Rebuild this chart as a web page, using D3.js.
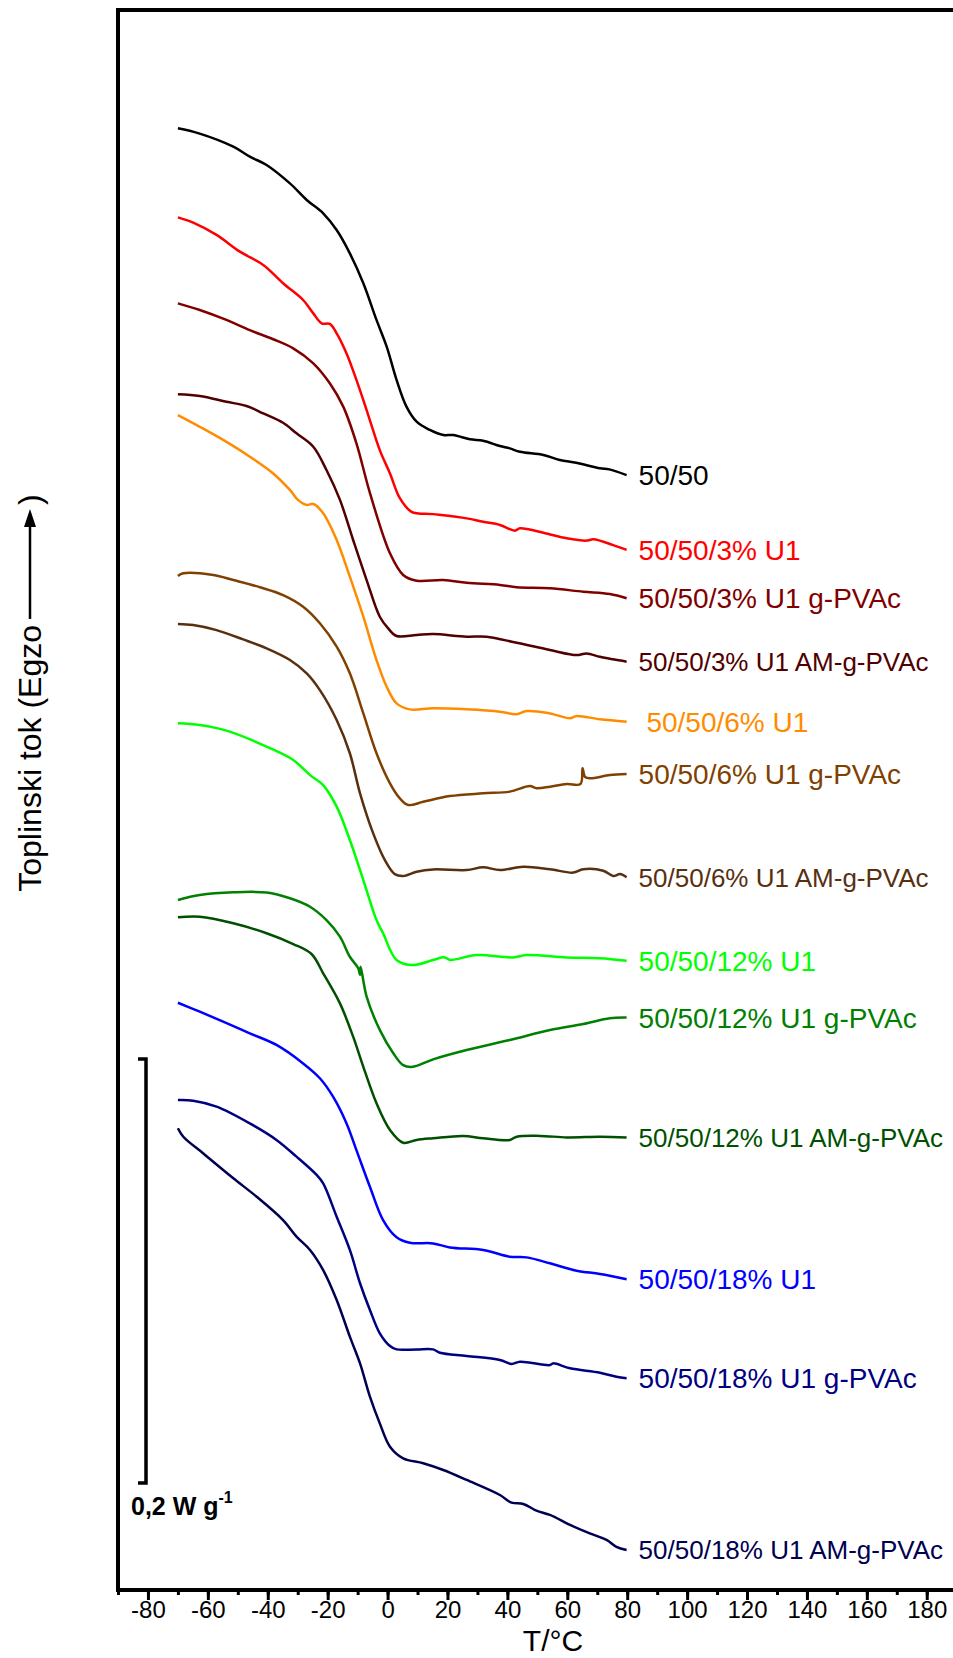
<!DOCTYPE html>
<html>
<head>
<meta charset="utf-8">
<script src="https://cdn.jsdelivr.net/npm/d3@7"></script>
<style>
  body { margin: 0; background: #fff; }
  svg { display: block; font-family: "Liberation Sans", Arial, sans-serif; }
</style>
</head>
<body>
<div id="chart"></div>
<script>
// DSC curves, T in degC, heat flow in mW/g (shifted, stacked as in the figure)
var c5050 = [[-70,689.5],[-63,687.1],[-51.5,680.8],[-46,676.1],[-40.4,672.2],[-32.6,663.5],[-27,655.7],[-21.5,649.4],[-17,641.5],[-12.6,630.5],[-8.1,616.4],[-3.7,599.1],[-0.3,586.5],[3,570.8],[6.3,558.2],[9.7,551.1],[14.1,547.2],[18.6,544.8],[21.9,544.8],[27.5,542.8],[31.9,542.1],[37.5,539.6],[40.8,538.5],[44.2,536.9],[52,535.4],[57.5,533],[63,531.7],[70.9,529.1],[74,528.6],[79.8,525.9]];
var c3U1 = [[-70,647.5],[-64.9,645],[-57.1,639.2],[-49.3,631.3],[-41.5,625],[-34.9,616.4],[-28.2,608.5],[-24.8,602.2],[-22,597.5],[-19.3,597.2],[-17,592.8],[-13.7,583.3],[-10.4,570.8],[-7,556.6],[-2.6,537.7],[0.8,526.7],[4.1,515],[8,508.6],[15.2,507.5],[26.4,505.5],[31.9,503.9],[37.5,502.4],[42.5,499.7],[44.2,500.8],[52,498.7],[59.8,496.1],[66.4,495],[68.7,495.6],[75.3,492.9],[79.8,490.6]];
var c3g = [[-70,606.9],[-62.7,603.8],[-53.8,599.1],[-46,594.3],[-38.2,590],[-31.5,585.7],[-24.8,578.6],[-19.3,569.2],[-14.8,558.2],[-10.4,540.9],[-6,518],[0.8,489],[5.2,478.8],[9.7,476.1],[18.6,476.4],[26.4,475.1],[37.5,474.1],[43.1,473],[54.2,472.5],[65.3,470.9],[74.2,469.8],[79.8,467.8]];
var c3AM = [[-70,564],[-62.7,563.2],[-53.8,560.5],[-47.1,558.5],[-41.5,555],[-34.9,550.6],[-30.4,545.6],[-24.8,539.3],[-20.4,528.3],[-15.9,514.2],[-11.5,495.3],[-7,476.4],[-2.6,459.1],[0.2,453.6],[3,450],[9.7,450.5],[15.2,450.9],[26.4,449.7],[33,449.7],[43.1,446.8],[54.2,443.4],[63.1,441],[66.4,441.8],[70.9,440.2],[75.3,439],[79.8,437.9]];
var c6U1 = [[-70,554.2],[-62.7,548.7],[-54.9,542.5],[-46,534.6],[-38.2,526.7],[-32.6,518.9],[-29.9,514.2],[-27,511.8],[-24.8,512.3],[-21.5,507.9],[-17,495.3],[-12.6,478],[-8.1,459.1],[-3.7,438.7],[-0.3,426.1],[3,418.2],[7.4,415.4],[15.2,415.9],[26.4,415.4],[37.5,414.3],[43.1,413.1],[46.4,414.6],[54.2,413.5],[60.9,411.2],[63.1,412.3],[70.9,410.7],[79.8,409.6]];
var c6g = [[-70,478.3],[-68.2,479.6],[-58.2,478.8],[-51.5,476.4],[-42.6,473],[-34.9,469.3],[-28.2,463.8],[-22.6,456],[-17,445],[-12.6,432.4],[-8.1,413.5],[-3.7,394.7],[0.8,380.5],[4.1,373.4],[6.9,370.3],[11.9,371.8],[20.8,374.5],[31.9,375.8],[40.8,376.6],[47.5,379.2],[49.7,378.2],[54.2,378.9],[59.8,380.2],[64.4,380.2],[65.1,387.6],[65.9,383.6],[67.5,382.9],[74.2,384.4],[79.8,384.9]];
var c6AM = [[-70,455.7],[-64.9,455.2],[-57.1,452.8],[-48.2,448.4],[-40.4,444.2],[-32.6,438.7],[-27,432.4],[-22.6,424.5],[-17,410.4],[-12.6,394.7],[-9.2,375.8],[-4.8,356.9],[-0.9,344.3],[2.4,337.7],[5.2,336.8],[9.7,338.8],[15.2,339.9],[26.4,339.6],[31.9,340.9],[37.5,339.6],[45.3,341.2],[54.2,340],[62,338.4],[65.3,340],[72,339.3],[75.3,336.8],[77.6,337.7],[79.8,336.2]];
var c12U1 = [[-70,408.8],[-62.7,408],[-52.7,404.9],[-40.4,397.8],[-31.5,391.5],[-25.9,384.4],[-21.5,379.7],[-17,369.5],[-12.6,353.8],[-8.1,334.9],[-3.7,316],[-1.5,309.8],[3,297.2],[8.5,294.8],[15.2,297.2],[19.1,298.4],[20.8,297.2],[29.7,299.5],[41.9,298.4],[46.4,299.5],[59.8,298.4],[70.9,298],[79.8,296.8]];
var c12g = [[-70,325.5],[-62.7,327.8],[-51.5,329.1],[-40.4,329],[-32.6,326.3],[-25.9,322.3],[-20.4,316],[-15.9,308.2],[-12.6,298.7],[-9.8,293.3],[-9.2,290.1],[-9,294],[-7,279.9],[-2.6,264.2],[1.9,253.2],[5.2,247.6],[8.5,246.8],[15.2,250.3],[26.4,254.7],[40.8,259.4],[54.2,264.2],[65.3,267],[74.2,269.7],[79.8,270]];
var c12AM = [[-70,317.3],[-62.7,317.6],[-51.5,314.5],[-40.4,309.8],[-31.5,304.7],[-25.4,300],[-21.5,290.9],[-15.9,276.7],[-11.5,261],[-8.1,246.8],[-3.7,229.6],[0.8,217],[5.2,211],[9.7,212.3],[15.2,213.1],[25.2,214.2],[31.9,213.1],[40.8,212.3],[43.1,213.8],[50.9,214.2],[59.8,213.5],[70.9,213.8],[79.8,213.5]];
var c18U1 = [[-70,277],[-62.7,272.8],[-54.9,268.1],[-46,262.6],[-37.1,257.1],[-28.2,248.4],[-22.6,241.4],[-18.2,232.7],[-13.7,220.1],[-10.4,207.5],[-5.9,190.2],[-1.5,174.5],[3,166.4],[7.4,163.8],[15.2,163.5],[20.8,161.6],[31.9,160.4],[40.8,157.2],[46.4,156.9],[54.2,154.1],[63.1,150.6],[70.9,149.1],[79.8,146.6]];
var c18g = [[-70,231.1],[-64.9,230.8],[-57.1,228],[-46,220.1],[-37.1,212.3],[-30.4,204.4],[-23.7,195.8],[-21.5,191.8],[-17,176.1],[-12.6,160.4],[-9.2,144.7],[-5.9,132.1],[-2.6,121.1],[0.8,115.1],[3,113.5],[9.7,113.5],[15.2,113.5],[17.5,111.9],[26.4,110.4],[37.5,108.5],[41.4,106.6],[44.2,107.7],[54.2,106.1],[55.3,106.9],[60.9,104.6],[70.9,102.5],[76.4,100.6],[79.8,99.9]];
var c18AM = [[-70,217.8],[-68.2,213.8],[-61.6,206],[-51.5,194.2],[-43.7,185.5],[-34.9,174.5],[-30.4,166.7],[-25.9,160.4],[-21.5,150.9],[-17,136.8],[-12.6,119.5],[-9.2,106.9],[-5.9,91.2],[-2.6,78.6],[0.8,67.6],[5.2,62.1],[11.9,59.8],[18.6,56.6],[26.4,51.9],[37.5,44.8],[41.4,41.2],[45.3,40.6],[49.7,37.4],[54.2,35.4],[60.9,30.7],[67.5,26.7],[73.1,23.6],[76.4,20.4],[79.8,18.9]];

var names = ["50/50", "50/50/3% U1", "50/50/3% U1 g-PVAc", "50/50/3% U1 AM-g-PVAc",
  " 50/50/6% U1", "50/50/6% U1 g-PVAc", "50/50/6% U1 AM-g-PVAc",
  "50/50/12% U1", "50/50/12% U1 g-PVAc", "50/50/12% U1 AM-g-PVAc",
  "50/50/18% U1", "50/50/18% U1 g-PVAc", "50/50/18% U1 AM-g-PVAc"];
var curves = [c5050, c3U1, c3g, c3AM, c6U1, c6g, c6AM, c12U1, c12g, c12AM, c18U1, c18g, c18AM];
var colors = ["#000000", "#ff0000", "#800000", "#500000",
  "#ff8c00", "#804000", "#583010",
  "#00ff00", "#008000", "#005000",
  "#0000ff", "#000080", "#000050"];

var majorTicks = d3.range(-80, 181, 20);
var minorTicks = d3.range(-90, 191, 10);
var xTitle = "T/°C";
var yTitle = "Toplinski tok (Egzo";
var barFrom = 50.5, barSize = 200;   // mW/g, i.e. 0.2 W/g
var barText = "0,2 W g";

var W = 953, H = 1658;

var x = d3.scaleLinear().domain([-90, 190]).range([118, 956.7]);
var y = d3.scaleLinear().domain([0, 745.3]).range([1590, 10]);

var svg = d3.select("#chart").append("svg").attr("width", W).attr("height", H);

// frame
svg.append("rect")
  .attr("x", x(-90)).attr("y", y(745.3))
  .attr("width", x(190) - x(-90)).attr("height", y(0) - y(745.3))
  .attr("fill", "none").attr("stroke", "#000").attr("stroke-width", 4);

// x axis: minor + major ticks
var minorAxis = d3.axisBottom(x).tickValues(minorTicks).tickSize(5).tickFormat("");
var majorAxis = d3.axisBottom(x).tickValues(majorTicks).tickSize(10).tickPadding(1)
  .tickFormat(function (d) { return String(d) });

svg.append("g").attr("transform", "translate(0," + y(0) + ")").call(minorAxis)
  .call(function (g) { g.select(".domain").remove() })
  .selectAll("line").attr("stroke-width", 3);

var gx = svg.append("g").attr("transform", "translate(0," + y(0) + ")").call(majorAxis);
gx.select(".domain").remove();
gx.selectAll("line").attr("stroke-width", 3);
gx.selectAll("text").attr("font-size", 24).attr("fill", "#000")
  .attr("font-family", "'Liberation Sans', Arial, sans-serif");

svg.append("text").attr("x", 553).attr("y", 1651).attr("text-anchor", "middle")
  .attr("font-size", 30).text(xTitle);

// curves
var line = d3.line()
  .x(function (d) { return x(d[0]) })
  .y(function (d) { return y(d[1]) })
  .curve(d3.curveCatmullRom.alpha(0.5));

curves.forEach(function (c, i) {
  svg.append("path").attr("d", line(c))
    .attr("fill", "none").attr("stroke", colors[i])
    .attr("stroke-width", 2.5).attr("stroke-linejoin", "round");

  var last = c[c.length - 1];
  svg.append("text")
    .attr("x", x(last[0]) + 12).attr("y", y(last[1]))
    .attr("dy", "0.36em")
    .attr("font-size", names[i].indexOf("AM-") >= 0 ? 26 : 28)
    .attr("fill", colors[i])
    .style("white-space", "pre")
    .text(names[i]);
});

// scale bar
var bx = 146;
svg.append("path")
  .attr("d", "M" + (bx - 8) + "," + y(barFrom + barSize) + "H" + bx + "V" + y(barFrom) + "H" + (bx - 8))
  .attr("fill", "none").attr("stroke", "#000").attr("stroke-width", 3.5);

var bt = svg.append("text").attr("x", 131).attr("y", 1515)
  .attr("font-size", 25).attr("font-weight", "bold").text(barText);
bt.append("tspan").attr("font-size", 16).attr("dy", -12).text("-1");

// y title with arrow
var gt = svg.append("g").attr("transform", "translate(41,693) rotate(-90)");
var t1 = gt.append("text").attr("font-size", 32).text(yTitle);
var t2 = gt.append("text").attr("font-size", 32).text(")");
var l1 = t1.node().getComputedTextLength();
var l2 = t2.node().getComputedTextLength();
var arrowLen = 110;
var total = l1 + 6 + arrowLen + 4 + l2;
var s = -total / 2;
t1.attr("x", s);
var a0 = s + l1 + 6, a1 = a0 + arrowLen;
gt.append("line").attr("x1", a0).attr("x2", a1 - 14).attr("y1", -11).attr("y2", -11)
  .attr("stroke", "#000").attr("stroke-width", 2.5);
gt.append("path").attr("d", "M" + a1 + ",-11L" + (a1 - 18) + ",-17L" + (a1 - 18) + ",-5Z").attr("fill", "#000");
t2.attr("x", a1 + 4);
</script>
</body>
</html>
